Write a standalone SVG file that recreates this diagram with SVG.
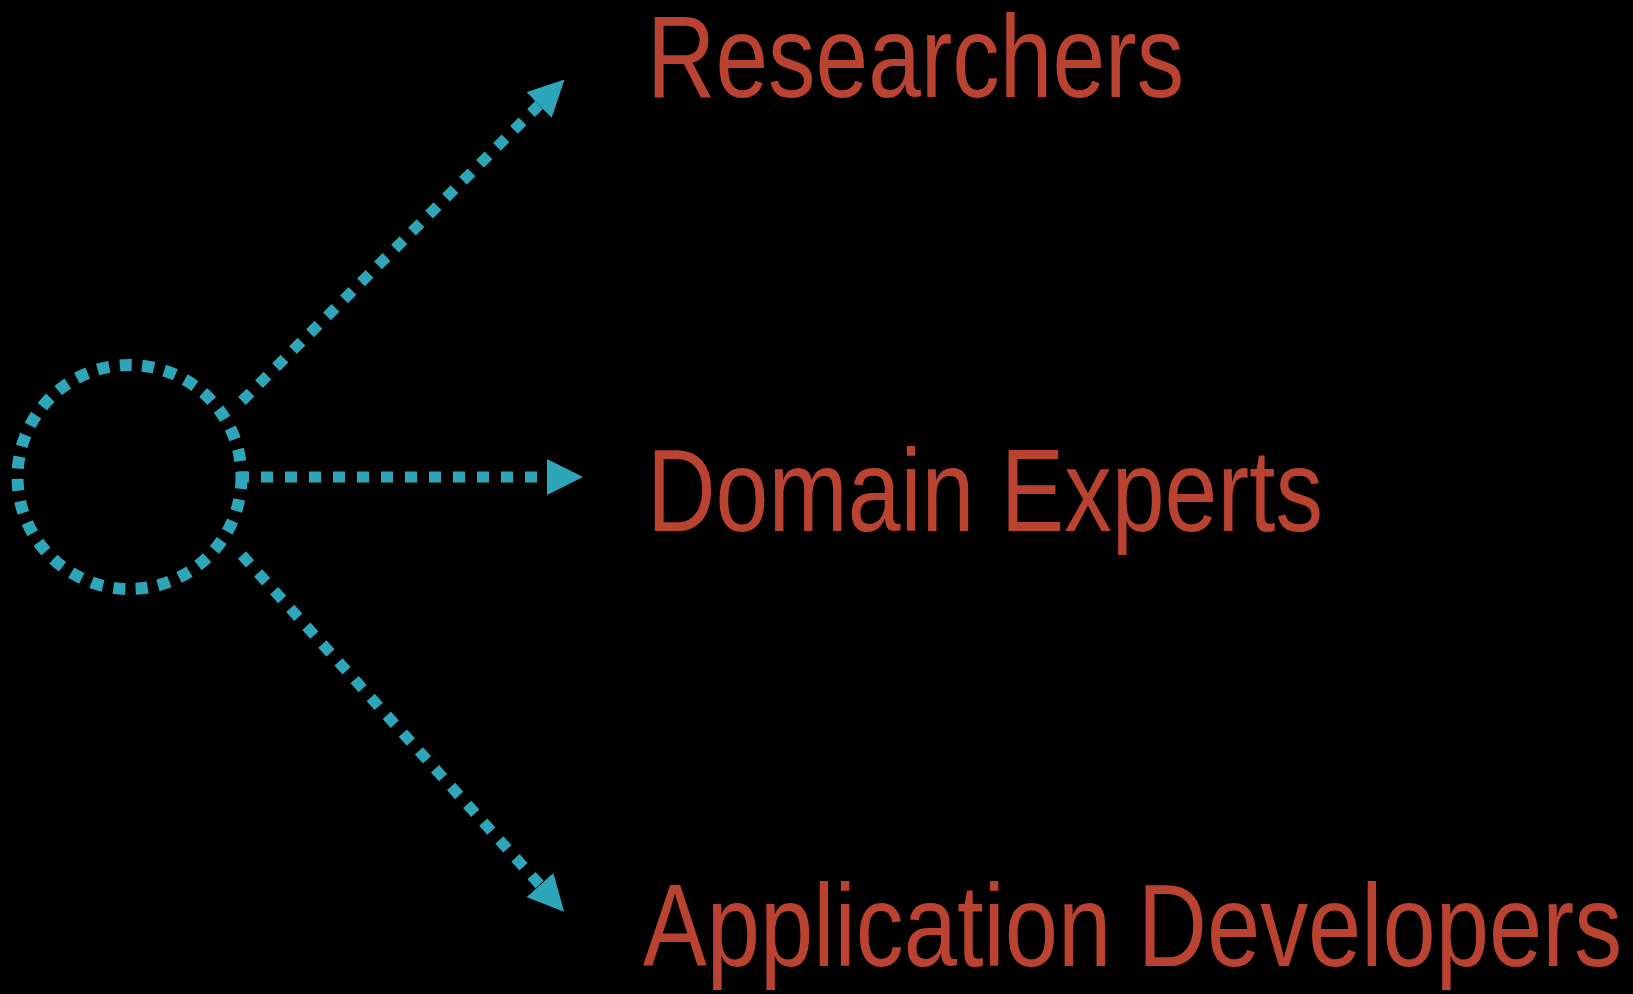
<svg xmlns="http://www.w3.org/2000/svg" width="1633" height="994" viewBox="0 0 1633 994">
<style>
.lbl{font-family:"Liberation Sans",Arial,sans-serif;font-size:116px;fill:#BA4231}
.con{stroke:#2EA6BA;stroke-width:11;fill:none;stroke-dasharray:12 12}
</style>
<defs>
<marker id="ah" markerUnits="userSpaceOnUse" markerWidth="36" markerHeight="36" refX="0" refY="18" orient="auto" viewBox="0 0 36 36">
<path d="M0,0 L36,18 L0,36 Z" fill="#2EA6BA"/>
</marker>
</defs>
<rect width="1633" height="994" fill="#000"/>
<g id="hub">
<circle cx="129.5" cy="477" r="112" fill="none" stroke="#2EA6BA" stroke-width="12" stroke-dasharray="12 10.5"/>
</g>
<g id="connectors">
<line class="con" x1="242" y1="401" x2="539" y2="105" marker-end="url(#ah)"/>
<line class="con" x1="237" y1="477" x2="547" y2="477" marker-end="url(#ah)"/>
<line class="con" x1="242" y1="555" x2="540" y2="885" marker-end="url(#ah)"/>
</g>
<g id="researchers"><text class="lbl" x="647" y="97" textLength="537" lengthAdjust="spacingAndGlyphs">Researchers</text></g>
<g id="domain-experts"><text class="lbl" x="647" y="531" textLength="676" lengthAdjust="spacingAndGlyphs">Domain Experts</text></g>
<g id="app-devs"><text class="lbl" x="643" y="966" textLength="979" lengthAdjust="spacingAndGlyphs">Application Developers</text></g>
</svg>
